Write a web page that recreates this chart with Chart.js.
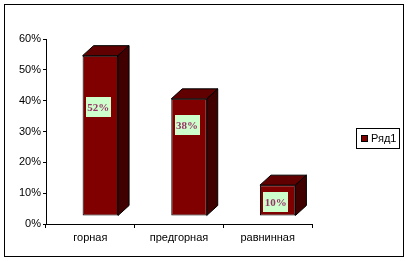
<!DOCTYPE html>
<html>
<head>
<meta charset="utf-8">
<script src="https://cdn.jsdelivr.net/npm/chart.js@4"></script>
<style>
  html, body { margin: 0; padding: 0; background: #fff; }
  #wrap { width: 408px; height: 261px; }
</style>
</head>
<body>
<div id="wrap"><canvas id="chart"></canvas></div>
<script>
const categories = ['горная', 'предгорная', 'равнинная'];
const seriesName = 'Ряд1';
const values = [52, 38, 10];
const yMax = 60;
const yStep = 10;
// where the value boxes sit, in % on the y axis (they were moved by hand in the original)
const labelLevels = [38, 32, 7];

const frontColor = '#800000';
const topColor = '#600000';
const sideColor = '#400000';
const depthX = 11, depthY = -10;   // 3D depth of the boxes
const shiftX = 10, shiftY = -8;    // front face sits back from the axis

function poly(ctx, pts, fill) {
  ctx.beginPath();
  ctx.moveTo(pts[0][0], pts[0][1]);
  for (let i = 1; i < pts.length; i++) ctx.lineTo(pts[i][0], pts[i][1]);
  ctx.closePath();
  ctx.fillStyle = fill;
  ctx.fill();
  ctx.lineWidth = 1;
  ctx.strokeStyle = '#000';
  ctx.stroke();
}

const bar3d = {
  id: 'bar3d',
  beforeDatasetsDraw(chart) {
    chart.ctx.save();
    chart.ctx.translate(shiftX, shiftY);
  },
  afterDatasetsDraw(chart) {
    const ctx = chart.ctx;
    const meta = chart.getDatasetMeta(0);
    meta.data.forEach(bar => {
      const x0 = bar.x - bar.width / 2, x1 = bar.x + bar.width / 2;
      const y = bar.y, b = bar.base;
      poly(ctx, [[x0, y], [x0 + depthX, y + depthY], [x1 + depthX, y + depthY], [x1, y]], topColor);
      poly(ctx, [[x1, y], [x1 + depthX, y + depthY], [x1 + depthX, b + depthY], [x1, b]], sideColor);
    });
    ctx.restore();

    // value boxes
    const yScale = chart.scales.y;
    ctx.save();
    ctx.font = 'bold 11px "Liberation Serif"';
    ctx.textAlign = 'center';
    ctx.textBaseline = 'middle';
    meta.data.forEach((bar, i) => {
      const txt = values[i] + '%';
      const w = ctx.measureText(txt).width + 3;
      const h = 20;
      const cx = bar.x + shiftX - 2;
      const cy = yScale.getPixelForValue(labelLevels[i]);
      ctx.fillStyle = '#ccffcc';
      ctx.fillRect(Math.round(cx - w / 2), Math.round(cy - h / 2), Math.round(w), h);
      ctx.fillStyle = '#993366';
      ctx.fillText(txt, cx, cy + 1);
    });
    ctx.restore();
  },
  afterDraw(chart) {
    const ctx = chart.ctx;
    ctx.save();
    ctx.strokeStyle = '#000';
    ctx.lineWidth = 1;
    ctx.strokeRect(4.5, 4.5, 399, 252);
    // legend
    ctx.strokeRect(356.5, 128.5, 43, 20);
    ctx.fillStyle = frontColor;
    ctx.fillRect(361.5, 135.5, 6, 6);
    ctx.strokeRect(361.5, 135.5, 6, 6);
    ctx.fillStyle = '#000';
    ctx.font = '11px "Liberation Sans"';
    ctx.textBaseline = 'middle';
    ctx.fillText(chart.data.datasets[0].label, 371, 139);
    ctx.restore();
  }
};

const font = { family: '"Liberation Sans"', size: 11 };

new Chart(document.getElementById('chart'), {
  type: 'bar',
  data: {
    labels: categories,
    datasets: [{
      label: seriesName,
      data: values,
      backgroundColor: frontColor,
      borderColor: '#000',
      borderWidth: 1,
      borderSkipped: false,
      barPercentage: 0.4,
      categoryPercentage: 1,
      clip: false
    }]
  },
  options: {
    responsive: true,
    maintainAspectRatio: false,
    animation: false,
    layout: { padding: { left: 0, right: 96, top: 39, bottom: 0 } },
    plugins: { legend: { display: false }, tooltip: { enabled: false } },
    scales: {
      x: {
        grid: { display: true, drawOnChartArea: false, tickLength: 4, color: '#000', offset: true },
        border: { color: '#000' },
        ticks: { color: '#000', font, padding: 3 },
        afterFit(s) { s.height = 37; }
      },
      y: {
        min: 0,
        max: yMax,
        ticks: { stepSize: yStep, color: '#000', font, padding: 2, callback: v => v + '%' },
        grid: { display: true, drawOnChartArea: false, tickLength: 3, color: '#000' },
        border: { color: '#000' },
        afterFit(s) { s.width = 46; }
      }
    }
  },
  plugins: [bar3d]
});
</script>
</body>
</html>
